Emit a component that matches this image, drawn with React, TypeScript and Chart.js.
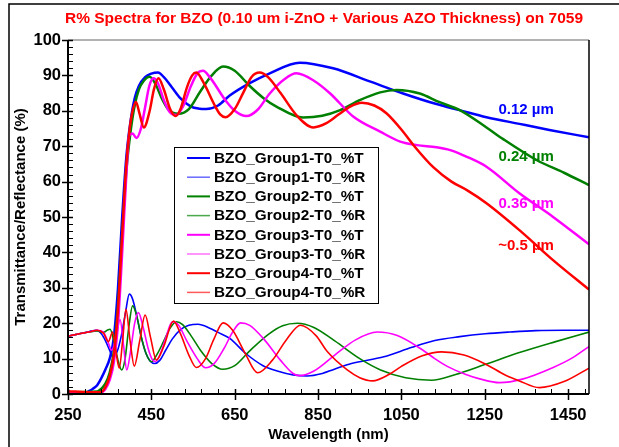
import React, { useEffect, useRef } from "react";
import { Chart, registerables } from "chart.js";

Chart.register(...registerables);

const FONT = '"Liberation Sans", Arial, Helvetica, sans-serif';

// ---- Data (wavelength in nm, value in %) ----
const g1T_wl = [250, 290, 300, 310, 320, 330, 340, 350, 360, 370, 380, 390, 400, 410, 420, 435, 450, 466, 480, 500, 520, 545, 565, 582, 610, 638, 686, 734, 806, 886, 974, 1054, 1134, 1189, 1254, 1333, 1405, 1500];
const g1T = [0.3, 0.3, 0.8, 1.5, 2.5, 4.5, 7, 10, 16, 30, 50, 67, 77, 83.5, 87, 89.5, 90.5, 90.8, 89.5, 86.5, 83.5, 81.2, 80.6, 80.5, 81.5, 84.3, 87.8, 90.6, 93.6, 92, 88.3, 84.9, 81.9, 80.2, 78.2, 76.3, 74.6, 72.5];

const g1R_wl = [250, 280, 300, 318, 330, 340, 350, 358, 368, 378, 388, 397, 405, 415, 425, 437, 447, 458, 470, 485, 500, 520, 540, 562, 590, 610, 638, 678, 718, 752, 790, 824, 860, 889, 930, 1008, 1075, 1130, 1190, 1251, 1310, 1372, 1440, 1500];
const g1R = [16.3, 17.1, 17.6, 18, 17, 15, 12.3, 10.3, 12, 16.5, 23, 28.2, 26.8, 22, 16.5, 11.5, 9.3, 8.6, 9.5, 12.5, 15.5, 18.2, 19.4, 19.7, 18.6, 17.4, 15.7, 11.3, 8, 6.5, 5.4, 5.1, 5.8, 7.0, 8.6, 10.5, 13.2, 15.1, 16.2, 17.0, 17.5, 17.9, 18.0, 18.0];

const g2T_wl = [250, 320, 330, 340, 350, 360, 370, 380, 390, 400, 410, 420, 432, 446, 460, 475, 490, 515, 540, 567, 595, 622, 650, 686, 720, 750, 814, 860, 903, 950, 999, 1038, 1094, 1140, 1190, 1254, 1294, 1374, 1440, 1500];
const g2T = [0.5, 0.7, 1.5, 3, 6, 12, 25, 45, 63, 74, 81.5, 86, 88.5, 89.6, 87.5, 83.5, 80.5, 79.2, 80.5, 85.4, 90, 92.5, 91.3, 87, 83.5, 81.2, 78.1, 78.6, 80.2, 83, 85.2, 85.9, 84.9, 82.5, 80.2, 75.3, 72, 66.1, 62.5, 59];

const g2R_wl = [250, 280, 300, 320, 335, 345, 351, 360, 370, 379, 387, 396, 405, 415, 425, 437, 450, 465, 480, 495, 510, 525, 545, 570, 595, 621, 650, 686, 730, 765, 800, 840, 890, 950, 1000, 1060, 1122, 1180, 1250, 1333, 1420, 1500];
const g2R = [16.3, 17.1, 17.5, 17.8, 17.4, 18.1, 18.3, 15, 9.5, 6.8, 10, 19, 24.9, 22, 16.5, 11.5, 9.1, 11.5, 15, 18.6, 20.4, 19.6, 16.5, 12, 8.6, 7.0, 8, 12.2, 16.8, 19.3, 20.0, 18.8, 15, 10, 6.8, 4.6, 3.9, 5.5, 8.3, 11.7, 14.8, 17.5];

const g3T_wl = [250, 330, 340, 350, 360, 370, 380, 390, 397, 405, 414, 425, 435, 445, 455, 465, 480, 495, 510, 525, 545, 560, 574, 590, 630, 650, 678, 705, 734, 770, 798, 840, 879, 935, 999, 1047, 1087, 1134, 1167, 1207, 1254, 1333, 1413, 1500];
const g3T = [0.5, 0.5, 1.5, 4, 9, 20, 40, 62, 73, 73.6, 72.3, 75, 81, 87, 89.2, 88, 83, 79.5, 78.8, 81, 87, 90.5, 91.3, 89.5, 82.6, 80, 78.5, 80.3, 84.9, 89, 90.6, 88.5, 84.9, 78.3, 74.1, 71.3, 70.3, 69.7, 68.9, 67, 64.2, 56.7, 50.1, 42.3];

const g3R_wl = [250, 280, 300, 320, 335, 345, 355, 365, 375, 383, 391, 400, 410, 419, 430, 442, 452, 460, 472, 485, 500, 515, 535, 560, 580, 600, 625, 645, 664, 686, 720, 760, 790, 805, 840, 890, 940, 992, 1040, 1100, 1130, 1160, 1203, 1240, 1285, 1340, 1414, 1460, 1500];
const g3R = [16.3, 17.1, 17.5, 18, 17.5, 15, 12.4, 16, 21, 14, 6.8, 12, 20, 23, 19, 13, 9.8, 9.2, 11.5, 16, 20.4, 19.5, 15, 10, 7.4, 8.5, 13, 17.5, 20.1, 19.4, 15.5, 9.5, 5.8, 5.2, 6.5, 11, 15.3, 17.5, 16.5, 12.5, 10, 7.8, 5.6, 4.2, 3.2, 4.2, 7.5, 10.2, 13.4];

const g4T_wl = [250, 300, 330, 340, 350, 360, 370, 380, 390, 398, 405, 413, 421, 432, 446, 456, 467, 480, 495, 508, 520, 535, 548, 558, 575, 600, 615, 628, 650, 670, 690, 710, 730, 760, 800, 839, 870, 900, 927, 955, 985, 1014, 1054, 1081, 1127, 1170, 1207, 1254, 1333, 1413, 1500];
const g4T = [0.8, 0.5, 0.6, 2, 5, 11, 24, 45, 65, 75, 80, 82.5, 79.5, 75.3, 80, 86, 89.2, 86, 80.5, 78.5, 80.5, 86.5, 90, 90.8, 88, 82, 79, 78.2, 80.5, 85, 89.5, 90.8, 89.5, 85, 78.5, 75.3, 76.5, 79, 81.2, 82.3, 81.5, 79.3, 74.1, 70, 64, 60, 57.6, 53.9, 46.3, 37.9, 29.5];

const g4R_wl = [250, 280, 300, 320, 335, 347, 357, 365, 373, 381, 389, 399, 409, 422, 435, 448, 462, 480, 503, 520, 540, 558, 580, 600, 622, 645, 675, 705, 740, 775, 808, 845, 872, 920, 950, 981, 1020, 1050, 1100, 1146, 1200, 1251, 1300, 1333, 1381, 1440, 1500];
const g4R = [16.3, 17.1, 17.5, 18, 17.2, 14.8, 17.5, 12, 7.3, 15, 23.9, 15, 7.9, 15, 22.3, 16, 9.6, 13.5, 20.6, 17, 11, 7.5, 10, 15.5, 20.1, 18, 11.5, 6.0, 9.5, 15.5, 19.4, 16.5, 12, 6.8, 4.6, 3.7, 5.5, 7.8, 10.8, 11.9, 11, 8.5, 5.3, 3.7, 1.8, 3.5, 7.3];

const seriesNames = [
  "BZO_Group1-T0_%T",
  "BZO_Group1-T0_%R",
  "BZO_Group2-T0_%T",
  "BZO_Group2-T0_%R",
  "BZO_Group3-T0_%T",
  "BZO_Group3-T0_%R",
  "BZO_Group4-T0_%T",
  "BZO_Group4-T0_%R",
];
const seriesX = [g1T_wl, g1R_wl, g2T_wl, g2R_wl, g3T_wl, g3R_wl, g4T_wl, g4R_wl];
const seriesY = [g1T, g1R, g2T, g2R, g3T, g3R, g4T, g4R];

const xMajorTicks = [250, 450, 650, 850, 1050, 1250, 1450];
const yMajorTicks = [0, 10, 20, 30, 40, 50, 60, 70, 80, 90, 100];
const thicknessLabels = ["0.12 µm", "0.24 µm", "0.36 µm", "~0.5 µm"];
const thicknessLabelY = [80.2, 66.9, 53.7, 41.9];
const thicknessLabelX = 1349;

const titleText = "R% Spectra for BZO (0.10 um i-ZnO + Various AZO Thickness) on 7059";
const xTitle = "Wavelength (nm)";
const yTitle = "Transmittance/Reflectance (%)";

// ---- Styles ----
const groupColors = ["#0000FF", "#008000", "#FF00FF", "#FF0000"];
const legendRColors = ["#6A6AFF", "#4CA84C", "#FF70FF", "#FF5A5A"];

const decorPlugin = {
  id: "decor",
  beforeDraw(chart: any) {
    const ctx = chart.ctx;
    ctx.save();
    ctx.fillStyle = "#fff";
    ctx.fillRect(0, 0, chart.width, chart.height);
    ctx.strokeStyle = "#000";
    ctx.lineWidth = 1.5;
    ctx.beginPath();
    ctx.moveTo(9, chart.height);
    ctx.lineTo(9, 4);
    ctx.lineTo(chart.width, 4);
    ctx.stroke();
    ctx.restore();
  },
  afterDraw(chart: any) {
    const ctx = chart.ctx;
    const a = chart.chartArea;
    const xs = chart.scales.x;
    const ys = chart.scales.y;
    ctx.save();

    // plot frame
    ctx.strokeStyle = "#999";
    ctx.lineWidth = 1.5;
    ctx.beginPath();
    ctx.moveTo(a.left, a.top);
    ctx.lineTo(a.right, a.top);
    ctx.stroke();
    ctx.strokeStyle = "#000";
    ctx.lineWidth = 1.5;
    ctx.beginPath();
    ctx.moveTo(a.right, a.top);
    ctx.lineTo(a.right, a.bottom);
    ctx.stroke();
    ctx.lineWidth = 2;
    ctx.beginPath();
    ctx.moveTo(a.left, a.top);
    ctx.lineTo(a.left, a.bottom);
    ctx.lineTo(a.right, a.bottom);
    ctx.stroke();

    // x ticks
    for (let v = 250; v <= 1500; v += 40) {
      const px = Math.round(xs.getPixelForValue(v)) + 0.5;
      const major = xMajorTicks.includes(v);
      ctx.lineWidth = major ? 1.5 : 1;
      ctx.beginPath();
      ctx.moveTo(px, a.bottom - 5);
      ctx.lineTo(px, major ? a.bottom + 6 : a.bottom);
      ctx.stroke();
    }
    // y ticks
    for (let v = 0; v <= 100; v += 2) {
      const py = Math.round(ys.getPixelForValue(v)) + 0.5;
      const major = v % 10 === 0;
      ctx.lineWidth = major ? 1.5 : 1;
      ctx.beginPath();
      ctx.moveTo(major ? a.left - 6 : a.left, py);
      ctx.lineTo(a.left + 5, py);
      ctx.stroke();
    }

    // tick labels
    ctx.fillStyle = "#000";
    ctx.font = `bold 16.5px ${FONT}`;
    ctx.textAlign = "center";
    ctx.textBaseline = "middle";
    xMajorTicks.forEach((v) => {
      ctx.fillText(String(v), xs.getPixelForValue(v), a.bottom + 21);
    });
    ctx.textAlign = "right";
    yMajorTicks.forEach((v) => {
      ctx.fillText(String(v), a.left - 7, ys.getPixelForValue(v));
    });

    // axis titles
    ctx.textAlign = "center";
    ctx.font = `bold 15px ${FONT}`;
    ctx.fillText(xTitle, (a.left + a.right) / 2, a.bottom + 41);
    ctx.save();
    ctx.translate(21, (a.top + a.bottom) / 2);
    ctx.rotate(-Math.PI / 2);
    ctx.fillText(yTitle, 0, 0);
    ctx.restore();

    // chart title
    ctx.fillStyle = "#FF0000";
    ctx.font = `bold 15.5px ${FONT}`;
    ctx.fillText(titleText, 324, 19);

    // thickness labels
    ctx.font = `bold 15px ${FONT}`;
    thicknessLabels.forEach((t, i) => {
      ctx.fillStyle = groupColors[i];
      ctx.fillText(t, xs.getPixelForValue(thicknessLabelX), ys.getPixelForValue(thicknessLabelY[i]));
    });

    // legend
    const lx = 174.5, ly = 147.5, lw = 204, lh = 156;
    ctx.fillStyle = "#fff";
    ctx.fillRect(lx, ly, lw, lh);
    ctx.strokeStyle = "#000";
    ctx.lineWidth = 1;
    ctx.strokeRect(lx, ly, lw, lh);
    ctx.font = `bold 15.3px ${FONT}`;
    ctx.textAlign = "left";
    seriesNames.forEach((name, i) => {
      const ry = 158 + i * 19.2;
      const g = Math.floor(i / 2);
      const isT = i % 2 === 0;
      ctx.strokeStyle = isT ? groupColors[g] : legendRColors[g];
      ctx.lineWidth = isT ? 2 : 1.5;
      ctx.beginPath();
      ctx.moveTo(187, ry);
      ctx.lineTo(210, ry);
      ctx.stroke();
      ctx.fillStyle = "#000";
      ctx.fillText(name, 214, ry + 0.5);
    });

    ctx.restore();
  },
};

export default function App() {
  const ref = useRef<HTMLCanvasElement | null>(null);

  useEffect(() => {
    if (!ref.current) return;
    const datasets = seriesNames.map((name, i) => {
      const g = Math.floor(i / 2);
      const isT = i % 2 === 0;
      return {
        label: name,
        data: seriesX[i].map((x, k) => ({ x, y: seriesY[i][k] })),
        borderColor: groupColors[g],
        backgroundColor: groupColors[g],
        borderWidth: isT ? 2.5 : 1.6,
        pointRadius: 0,
        fill: false,
        cubicInterpolationMode: "monotone" as const,
        order: 8 - i,
      };
    });
    const chart = new Chart(ref.current, {
      type: "line",
      data: { datasets },
      options: {
        responsive: false,
        devicePixelRatio: 1,
        animation: false,
        layout: { padding: { top: 40, right: 30, left: 0, bottom: 0 } },
        plugins: {
          legend: { display: false },
          tooltip: { enabled: false },
          title: { display: false },
        },
        scales: {
          x: {
            type: "linear",
            min: 250,
            max: 1500,
            grid: { display: false },
            border: { display: false },
            ticks: { display: false },
            afterFit: (s: any) => {
              s.height = 53;
            },
          },
          y: {
            type: "linear",
            min: 0,
            max: 100,
            grid: { display: false },
            border: { display: false },
            ticks: { display: false },
            afterFit: (s: any) => {
              s.width = 68;
            },
          },
        },
      },
      plugins: [decorPlugin],
    });
    return () => chart.destroy();
  }, []);

  return (
    <div style={{ position: "absolute", left: 0, top: 0, width: 619, height: 447 }}>
      <canvas ref={ref} width={619} height={447} style={{ display: "block" }} />
    </div>
  );
}
